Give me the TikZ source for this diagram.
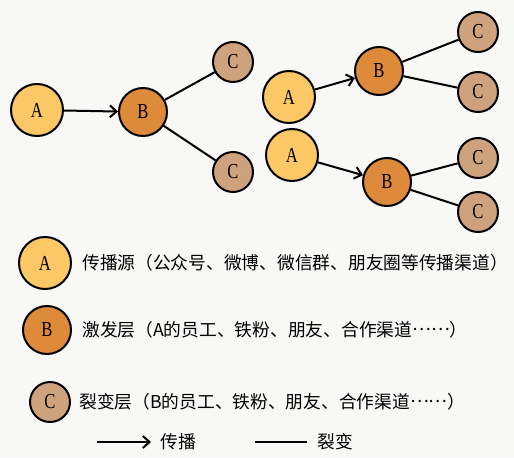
\documentclass[tikz,border=0pt]{standalone}
\usepackage{fontspec}
\usepackage{xcolor}
\usepackage{graphicx}
\usetikzlibrary{arrows.meta, positioning}
\newfontfamily\cjk{Noto Sans CJK SC}
\newfontfamily\letterfont{Liberation Serif}
\newcommand{\lett}[1]{\scalebox{0.78}[1]{#1}}
\newcommand{\dotsraised}{\raisebox{0.33em}{……}}
\definecolor{srcfill}{HTML}{FCC865}
\definecolor{actfill}{HTML}{DD8A3A}
\definecolor{splitfill}{HTML}{CFA27E}
\definecolor{paper}{HTML}{F8F8F6}

\begin{document}
\begin{tikzpicture}[x=0.75pt, y=-0.75pt,
    dot/.style={circle, draw=black, line width=1.5pt, inner sep=0pt, font=\letterfont\fontsize{16}{18}\selectfont},
    nodeA/.style={dot, fill=srcfill, minimum size=39pt},
    nodeB/.style={dot, fill=actfill, minimum size=36pt},
    nodeC/.style={dot, fill=splitfill, minimum size=30pt},
    spread/.style={line width=1.5pt, -{Straight Barb[length=5pt, width=9pt]}},
    split/.style={line width=1.5pt},
    note/.style={anchor=west, inner sep=0pt, font=\cjk\fontsize{13.3}{15}\selectfont}]
    % Background
    \fill[paper] (0,0) rectangle (514,457);
    \useasboundingbox (0,0) rectangle (514,457);

    % Left tree
    \node[nodeA] (a1) at (37,110) {\lett{A}};
    \node[nodeB] (b1) at (143,112) {\lett{B}};
    \node[nodeC] (c1) at (233,62) {\lett{C}};
    \node[nodeC] (c2) at (233,172) {\lett{C}};
    \draw[spread] (a1) -- (b1);
    \draw[split] (b1) -- (c1);
    \draw[split] (b1) -- (c2);

    % Right tree, upper branch
    \node[nodeA] (a2) at (289,97) {\lett{A}};
    \node[nodeB] (b2) at (379,71) {\lett{B}};
    \node[nodeC] (c3) at (478,32) {\lett{C}};
    \node[nodeC] (c4) at (478,92) {\lett{C}};
    \draw[spread] (a2) -- (b2);
    \draw[split] (b2) -- (c3);
    \draw[split] (b2) -- (c4);

    % Right tree, lower branch
    \node[nodeA] (a3) at (292,155) {\lett{A}};
    \node[nodeB] (b3) at (387,182) {\lett{B}};
    \node[nodeC] (c5) at (478,158) {\lett{C}};
    \node[nodeC] (c6) at (478,212) {\lett{C}};
    \draw[spread] (a3) -- (b3);
    \draw[split] (b3) -- (c5);
    \draw[split] (b3) -- (c6);

    % Legend
    \node[nodeA] (ka) at (45,263) {\lett{A}};
    \node[note] (ta) at (82,263) {传播源（公众号、微博、微信群、朋友圈等传播渠道）};
    \node[nodeB] (kb) at (47,330) {\lett{B}};
    \node[note] (tb) at (82,330) {激发层（A的员工、铁粉、朋友、合作渠道\dotsraised）};
    \node[nodeC] (kc) at (50,402) {\lett{C}};
    \node[note] (tc) at (79,402) {裂变层（B的员工、铁粉、朋友、合作渠道\dotsraised）};

    \coordinate (s0) at (97,442);
    \coordinate (s1) at (151,442);
    \draw[spread] (s0) -- (s1);
    \node[note] (ts) at (160,442) {传播};
    \coordinate (l0) at (255,442);
    \coordinate (l1) at (307,442);
    \draw[split] (l0) -- (l1);
    \node[note] (tl) at (317,442) {裂变};
\end{tikzpicture}
\end{document}
